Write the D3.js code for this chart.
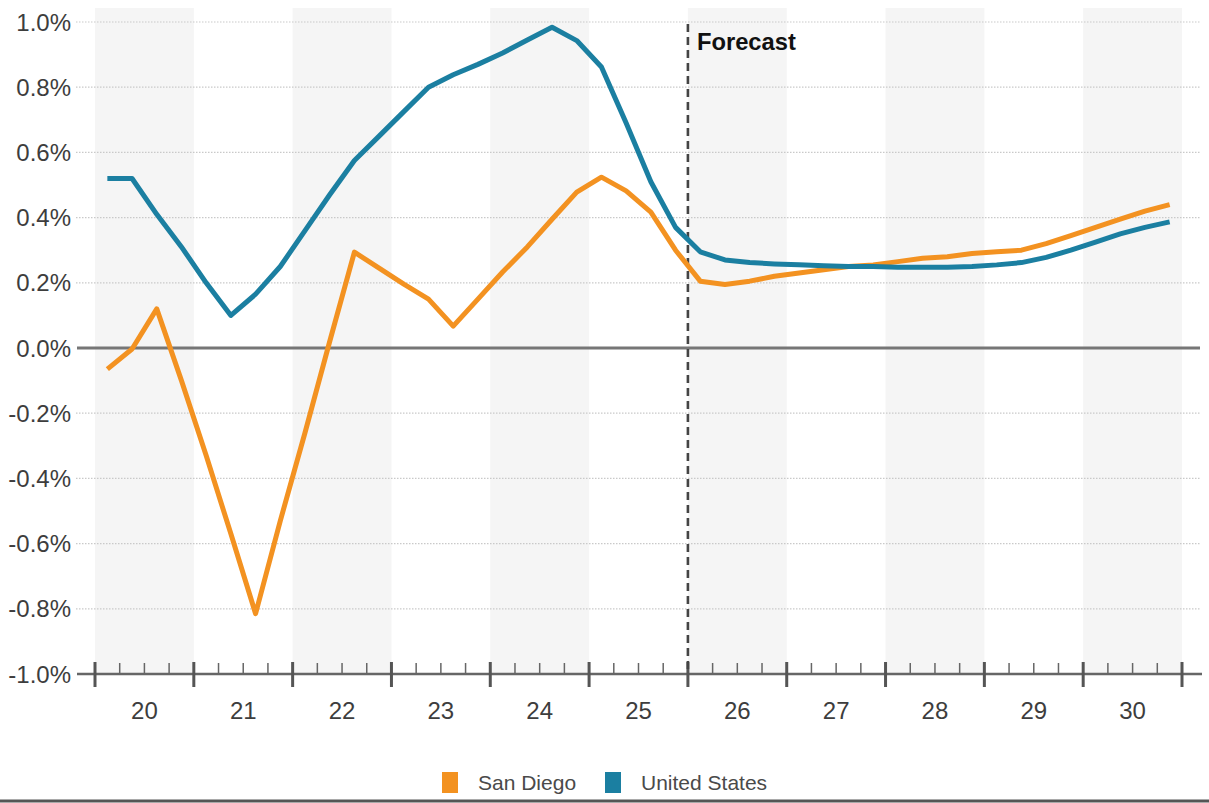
<!DOCTYPE html>
<html>
<head>
<meta charset="utf-8">
<script src="https://cdn.jsdelivr.net/npm/d3@7"></script>
<style>
  html, body { margin: 0; padding: 0; background: #fff; }
  svg { display: block; font-family: "Liberation Sans", Arial, sans-serif; }
</style>
</head>
<body>
<svg id="chart" width="1209" height="803"></svg>
<script>
// Quarterly year-over-year growth, 2020 Q1 – 2030 Q4 (percent)
const years = [2020, 2021, 2022, 2023, 2024, 2025, 2026, 2027, 2028, 2029, 2030];
const yearLabels = ["20", "21", "22", "23", "24", "25", "26", "27", "28", "29", "30"];
const yTicks = [-1.0, -0.8, -0.6, -0.4, -0.2, 0.0, 0.2, 0.4, 0.6, 0.8, 1.0];
const yTickLabels = ["-1.0%", "-0.8%", "-0.6%", "-0.4%", "-0.2%", "0.0%", "0.2%", "0.4%", "0.6%", "0.8%", "1.0%"];
const forecastStart = 2026;

const sanDiego = [
  -0.065, -0.003, 0.12, -0.10,
  -0.33, -0.57, -0.815, -0.53,
  -0.26, 0.02, 0.294, 0.245,
  0.196, 0.15, 0.067, 0.15,
  0.233, 0.31, 0.395, 0.478,
  0.524, 0.482, 0.417, 0.30,
  0.205, 0.195, 0.205, 0.22,
  0.23, 0.24, 0.25, 0.255,
  0.265, 0.275, 0.28, 0.29,
  0.295, 0.30, 0.32, 0.345,
  0.37, 0.395, 0.42, 0.44
];
const unitedStates = [
  0.52, 0.52, 0.41, 0.31,
  0.20, 0.10, 0.165, 0.25,
  0.36, 0.47, 0.575, 0.65,
  0.725, 0.80, 0.838, 0.87,
  0.905, 0.945, 0.984, 0.943,
  0.862, 0.69, 0.51, 0.37,
  0.295, 0.27, 0.262, 0.258,
  0.255, 0.252, 0.25, 0.25,
  0.248, 0.248, 0.248, 0.25,
  0.255, 0.262, 0.278, 0.30,
  0.325, 0.35, 0.37, 0.387
];

const series = [
  { name: "San Diego", color: "#f39221", values: sanDiego },
  { name: "United States", color: "#1b7fa1", values: unitedStates }
];

const svg = d3.select("#chart");

const x = d3.scaleLinear().domain([2020, 2031]).range([95, 1182]);
const y = d3.scaleLinear().domain([-1, 1]).range([674, 22]);
const tOf = i => 2020 + (i + 0.5) / 4;

// alternating year bands
svg.append("g").selectAll("rect")
  .data(years.filter((d, i) => i % 2 === 0))
  .join("rect")
  .attr("x", d => x(d))
  .attr("y", 8)
  .attr("width", d => x(d + 1) - x(d))
  .attr("height", y(-1) - 8)
  .attr("fill", "#f5f5f5");

// horizontal gridlines
svg.append("g").selectAll("line")
  .data(yTicks.filter(d => d !== 0 && d !== -1))
  .join("line")
  .attr("x1", 76).attr("x2", 1200)
  .attr("y1", d => y(d)).attr("y2", d => y(d))
  .attr("stroke", "#c9c9c9")
  .attr("stroke-width", 1.2)
  .attr("stroke-dasharray", "1.5,1.5");

// zero line
svg.append("line")
  .attr("x1", 77).attr("x2", 1200)
  .attr("y1", y(0)).attr("y2", y(0))
  .attr("stroke", "#767676")
  .attr("stroke-width", 3);

// y labels
svg.append("g").selectAll("text")
  .data(yTicks)
  .join("text")
  .attr("x", 71)
  .attr("y", d => y(d))
  .attr("dy", "0.36em")
  .attr("text-anchor", "end")
  .attr("font-size", 24)
  .attr("fill", "#3d3d3d")
  .text((d, i) => yTickLabels[i]);

// x axis line with year and quarter ticks
const axisY = y(-1);
svg.append("line")
  .attr("x1", 77).attr("x2", 1202)
  .attr("y1", axisY).attr("y2", axisY)
  .attr("stroke", "#666")
  .attr("stroke-width", 2.5);

const quarterTicks = d3.range(0, 44).filter(i => i % 4 !== 0).map(i => 2020 + i / 4);
svg.append("g").selectAll("line")
  .data(quarterTicks)
  .join("line")
  .attr("x1", d => x(d)).attr("x2", d => x(d))
  .attr("y1", axisY - 11).attr("y2", axisY)
  .attr("stroke", "#666")
  .attr("stroke-width", 1.5);

svg.append("g").selectAll("line")
  .data(d3.range(2020, 2032))
  .join("line")
  .attr("x1", d => x(d)).attr("x2", d => x(d))
  .attr("y1", axisY - 12).attr("y2", axisY + 13)
  .attr("stroke", "#555")
  .attr("stroke-width", 3);

svg.append("g").selectAll("text")
  .data(years)
  .join("text")
  .attr("x", d => x(d + 0.5))
  .attr("y", 719)
  .attr("text-anchor", "middle")
  .attr("font-size", 24)
  .attr("fill", "#3d3d3d")
  .text((d, i) => yearLabels[i]);

// forecast divider
svg.append("line")
  .attr("x1", x(forecastStart)).attr("x2", x(forecastStart))
  .attr("y1", 24).attr("y2", axisY)
  .attr("stroke", "#444")
  .attr("stroke-width", 2.6)
  .attr("stroke-dasharray", "8,5");

svg.append("text")
  .attr("x", x(forecastStart) + 9)
  .attr("y", 50)
  .attr("font-size", 24)
  .attr("font-weight", "bold")
  .attr("fill", "#111")
  .attr("textLength", 99)
  .attr("lengthAdjust", "spacingAndGlyphs")
  .text("Forecast");

// series lines
const line = d3.line()
  .x((d, i) => x(tOf(i)))
  .y(d => y(d));

svg.append("g").selectAll("path")
  .data(series)
  .join("path")
  .attr("d", d => line(d.values))
  .attr("fill", "none")
  .attr("stroke", d => d.color)
  .attr("stroke-width", 5)
  .attr("stroke-linejoin", "round");

// legend
const legend = svg.append("g");
const legendItems = [
  { name: series[0].name, color: series[0].color, x: 442 },
  { name: series[1].name, color: series[1].color, x: 605 }
];
legendItems.forEach(it => {
  legend.append("rect")
    .attr("x", it.x).attr("y", 772)
    .attr("width", 16).attr("height", 21)
    .attr("fill", it.color);
  legend.append("text")
    .attr("x", it.x + 36).attr("y", 790)
    .attr("font-size", 21)
    .attr("fill", "#4a4a4a")
    .text(it.name);
});

// bottom border
svg.append("line")
  .attr("x1", 0).attr("x2", 1209)
  .attr("y1", 801).attr("y2", 801)
  .attr("stroke", "#555")
  .attr("stroke-width", 3);
</script>
</body>
</html>
